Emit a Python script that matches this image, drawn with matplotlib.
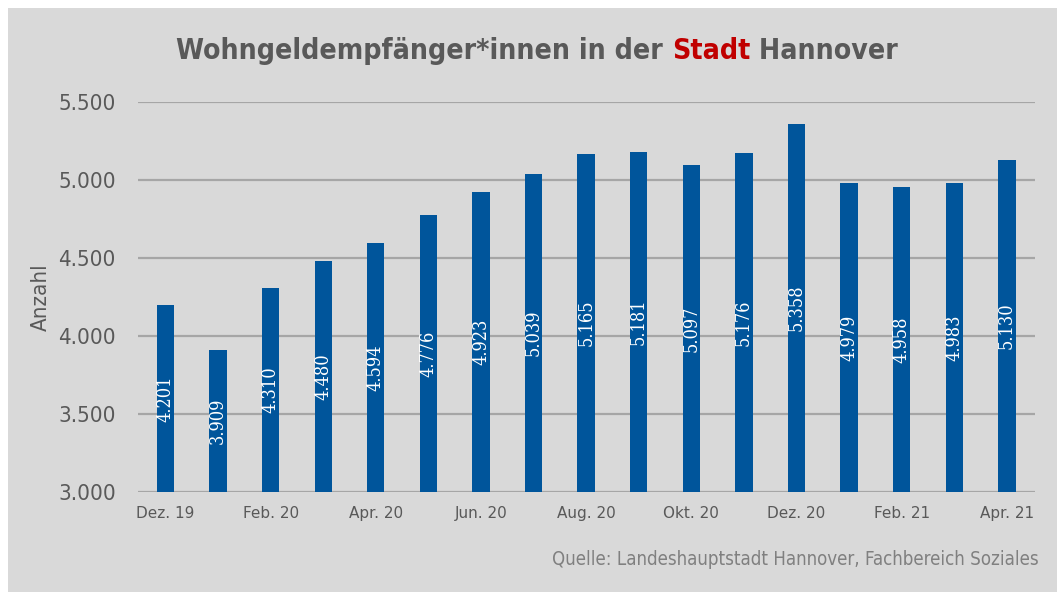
import matplotlib
matplotlib.use("Agg")
import matplotlib.pyplot as plt
from matplotlib.patches import Rectangle

# data
months = ["Dez. 19", "Jan. 20", "Feb. 20", "Mär. 20", "Apr. 20", "Mai 20",
          "Jun. 20", "Jul. 20", "Aug. 20", "Sep. 20", "Okt. 20", "Nov. 20",
          "Dez. 20", "Jan. 21", "Feb. 21", "Mär. 21", "Apr. 21"]
recipients = [4201, 3909, 4310, 4480, 4594, 4776, 4923, 5039, 5165, 5181,
              5097, 5176, 5358, 4979, 4958, 4983, 5130]
yticks = [3000, 3500, 4000, 4500, 5000, 5500]

BG = "#d9d9d9"
BAR = "#00559b"
TXT = "#595959"

plt.rcParams["font.family"] = ["DejaVu Sans"]
plt.rcParams["font.stretch"] = "condensed"


def de_num(v):
    return f"{v:,}".replace(",", ".")


fig = plt.figure(figsize=(10.57, 5.92), dpi=100, facecolor="white")
# grey panel with a thin white margin top/left
fig.patches.append(Rectangle((8 / 1057, 0), 1, 1 - 8 / 592, transform=fig.transFigure,
                             facecolor=BG, edgecolor="none", zorder=-10))

ax = fig.add_axes([0.1306, 0.1689, 0.8484, 0.6588])
ax.set_facecolor("none")

x = list(range(len(months)))
ax.bar(x, [v - 3000 for v in recipients], bottom=3000, width=0.33, color=BAR, zorder=3)

for xi, v in zip(x, recipients):
    ax.text(xi, (3000 + v) / 2, de_num(v), rotation=90, ha="center", va="center",
            color="white", fontsize=13, family=["DejaVu Serif"], fontstretch="condensed",
            zorder=4)

ax.set_ylim(3000, 5500)
ax.set_xlim(-0.52, 16.53)
ax.set_yticks(yticks)
ax.set_yticklabels([de_num(t) for t in yticks], fontsize=16, color=TXT)
ax.set_xticks(x[::2])
ax.set_xticklabels(months[::2], fontsize=11, color=TXT, fontstretch="normal")
ax.tick_params(axis="both", length=0)
ax.tick_params(axis="y", pad=16)
ax.tick_params(axis="x", pad=10)
ax.yaxis.grid(True, color="#a6a6a6", linewidth=1.6, zorder=0)
for s in ax.spines.values():
    s.set_visible(False)
ax.set_ylabel("Anzahl", fontsize=16, color=TXT, labelpad=5)

# title with red "Stadt"
parts = [("Wohngeldempfänger*innen in der ", TXT), ("Stadt", "#c00000"), (" Hannover", TXT)]
texts = []
for s, c in parts:
    texts.append(fig.text(0, 0.9003, s, fontsize=20.3, fontweight="bold", color=c, va="baseline"))
fig.canvas.draw()
r = fig.canvas.get_renderer()
widths = [t.get_window_extent(r).width for t in texts]
xpos = 537 - sum(widths) / 2
for t, w in zip(texts, widths):
    t.set_x(xpos / 1057)
    xpos += w

fig.text(0.983, 0.045, "Quelle: Landeshauptstadt Hannover, Fachbereich Soziales",
         ha="right", va="baseline", fontsize=13.4, color="#808080")

fig.savefig("out.png", dpi=100, facecolor=fig.get_facecolor())
